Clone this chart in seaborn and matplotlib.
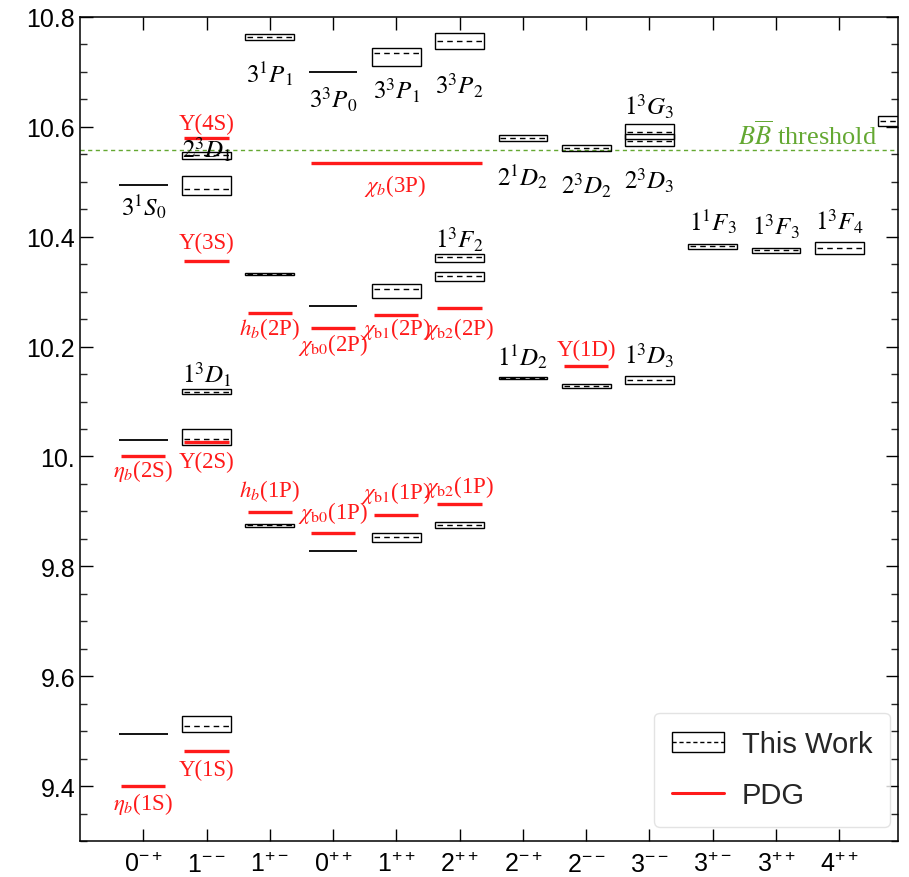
import numpy as np
import pandas as pd
import seaborn as sns
import matplotlib
matplotlib.use("Agg")
import matplotlib.pyplot as plt
from matplotlib.patches import Rectangle, Patch
from matplotlib.lines import Line2D
from matplotlib.ticker import MultipleLocator

# ---- quantum-number channels (x axis) ----
jpc_labels = [r"$0^{-+}$", r"$1^{--}$", r"$1^{+-}$", r"$0^{++}$", r"$1^{++}$", r"$2^{++}$",
              r"$2^{-+}$", r"$2^{--}$", r"$3^{--}$", r"$3^{+-}$", r"$3^{++}$", r"$4^{++}$"]

# ---- this work: channel index, central mass, lower / upper band (GeV) ----
tw_channel = [0, 0, 0,
              1, 1, 1, 1, 1,
              2, 2, 2,
              3, 3, 3,
              4, 4, 4,
              5, 5, 5, 5,
              6, 6,
              7, 7,
              8, 8, 8,
              9, 10, 11, 12]
tw_mass = [9.4945, 10.0297, 10.4945,
           9.5085, 10.031, 10.118, 10.487, 10.548,
           9.8745, 10.3315, 10.764,
           9.8278, 10.2733, 10.699,
           9.853, 10.3055, 10.7345,
           9.876, 10.3285, 10.3624, 10.757,
           10.143, 10.580,
           10.129, 10.5618,
           10.140, 10.5915, 10.575,
           10.3827, 10.375, 10.380, 10.6104]
tw_low = [9.4945, 10.0297, 10.4945,
          9.4985, 10.0205, 10.114, 10.476, 10.541,
          9.8725, 10.3295, 10.758,
          9.8278, 10.2733, 10.699,
          9.8436, 10.2885, 10.7115,
          9.8697, 10.319, 10.354, 10.7418,
          10.141, 10.5751,
          10.1255, 10.5558,
          10.1327, 10.5775, 10.5649,
          10.3782, 10.370, 10.369, 10.6024]
tw_high = [9.4945, 10.0297, 10.4945,
           9.5267, 10.050, 10.122, 10.511, 10.555,
           9.8765, 10.3335, 10.769,
           9.8278, 10.2733, 10.699,
           9.860, 10.3145, 10.7436,
           9.8806, 10.336, 10.369, 10.770,
           10.145, 10.5855,
           10.1327, 10.5678,
           10.1467, 10.6055, 10.5873,
           10.3873, 10.3794, 10.3903, 10.6205]

# ---- PDG masses: channel index, mass (GeV) ----
pdg_channel = [0, 0, 1, 1, 1, 1, 2, 2, 3, 3, 4, 4, 5, 5, 7]
pdg_mass = [9.400, 10.0005, 9.463, 10.0255, 10.356, 10.580, 9.899, 10.261,
            9.861, 10.233, 9.894, 10.257, 9.914, 10.270, 10.165]
# chi_b(3P) spans the 0++, 1++ and 2++ channels
chib3p_mass = 10.5345
chib3p_channels = [3, 5]

bb_threshold = 10.558

# ---- state names ----
tw_names = [r"$3^1S_0$", r"$2^3D_1$", r"$1^3D_1$", r"$3^1P_1$", r"$3^3P_0$", r"$3^3P_1$",
            r"$3^3P_2$", r"$1^3F_2$", r"$2^1D_2$", r"$1^1D_2$", r"$2^3D_2$", r"$1^3G_3$",
            r"$2^3D_3$", r"$1^3D_3$", r"$1^1F_3$", r"$1^3F_3$", r"$1^3F_4$"]
tw_name_xy = [(0, 10.456), (1, 10.560), (1, 10.151), (2, 10.698), (3, 10.651), (4, 10.667),
              (5, 10.676), (5, 10.396), (6, 10.511), (6, 10.184), (7, 10.495), (8, 10.638),
              (8, 10.504), (8, 10.185), (9, 10.429), (10, 10.420), (11, 10.429)]
pdg_names = ["Υ(4S)", "Υ(3S)", "Υ(2S)", "Υ(1S)", r"$\eta_b$(2S)", r"$\eta_b$(1S)",
             r"$h_b$(2P)", r"$h_b$(1P)", r"$\chi_{\rm b0}$(2P)", r"$\chi_{\rm b0}$(1P)",
             r"$\chi_{\rm b1}$(2P)", r"$\chi_{\rm b1}$(1P)", r"$\chi_{\rm b2}$(2P)",
             r"$\chi_{\rm b2}$(1P)", "Υ(1D)", r"$\chi_b$(3P)"]
pdg_name_xy = [(1, 10.607), (1, 10.389), (1, 9.991), (1, 9.431), (0, 9.976), (0, 9.369),
               (2, 10.233), (2, 9.938), (3, 10.204), (3, 9.898), (4, 10.233), (4, 9.935),
               (5, 10.233), (5, 9.947), (7, 10.195), (3.98, 10.495)]

tw = pd.DataFrame({"ch": tw_channel, "m": tw_mass, "lo": tw_low, "hi": tw_high})
pdg = pd.DataFrame({"ch": pdg_channel, "m": pdg_mass})

# ---- style ----
sns.set_theme(style="ticks")
plt.rcParams["font.family"] = ["Liberation Sans", "DejaVu Sans"]
plt.rcParams["mathtext.fontset"] = "custom"
plt.rcParams["mathtext.rm"] = "Liberation Sans"
plt.rcParams["mathtext.it"] = "Liberation Sans:italic"
plt.rcParams["mathtext.bf"] = "Liberation Sans:bold"

RED = "#ff1a1a"
GREEN = "#64a832"
BOX_HW = 0.385
PDG_HW = 0.35

fig, ax = plt.subplots(figsize=(9.09, 8.78), dpi=100)
fig.subplots_adjust(left=0.088, right=0.988, top=0.9795, bottom=0.041)

# this-work bands
for _, r in tw.iterrows():
    x0 = r.ch - BOX_HW
    if r.hi - r.lo > 1e-9:
        ax.add_patch(Rectangle((x0, r.lo), 2 * BOX_HW, r.hi - r.lo, fill=False,
                               edgecolor="black", linewidth=1.0, zorder=3))
        ax.hlines(r.m, x0 + 0.03, r.ch + BOX_HW - 0.03, colors="black", linewidth=1.0,
                  linestyles=(0, (4, 3)), zorder=3)
    else:
        ax.hlines(r.m, x0, r.ch + BOX_HW, colors="black", linewidth=1.3, zorder=3)

# PDG masses
ax.hlines(pdg.m, pdg.ch - PDG_HW, pdg.ch + PDG_HW, colors=RED, linewidth=2.4, zorder=4)
ax.hlines(chib3p_mass, chib3p_channels[0] - PDG_HW, chib3p_channels[1] + PDG_HW,
          colors=RED, linewidth=2.4, zorder=4)

# open-bottom threshold
ax.axhline(bb_threshold, color=GREEN, linewidth=1.0, linestyle=(0, (3, 2.5)), zorder=2)
ax.text(10.5, 10.587, r"$B\overline{B}$ threshold", color=GREEN, fontsize=19,
        ha="center", va="center", family="Liberation Serif", math_fontfamily="stix")

for name, (x, y) in zip(tw_names, tw_name_xy):
    ax.text(x, y, name, fontsize=18, ha="center", va="center", color="black",
            family="Liberation Serif", math_fontfamily="stix", zorder=5)
for name, (x, y) in zip(pdg_names, pdg_name_xy):
    ax.text(x, y, name, fontsize=16.5, ha="center", va="center", color=RED,
            family="Liberation Serif", math_fontfamily="stix", zorder=5)

# axes
ax.set_xlim(-1, 11.93)
ax.set_ylim(9.30, 10.80)
ax.set_xticks(range(len(jpc_labels)))
ax.set_xticklabels(jpc_labels)
ax.set_yticks([9.4, 9.6, 9.8, 10.0, 10.2, 10.4, 10.6, 10.8])
ax.set_yticklabels(["9.4", "9.6", "9.8", "10.", "10.2", "10.4", "10.6", "10.8"])
ax.yaxis.set_minor_locator(MultipleLocator(0.05))
ax.tick_params(axis="both", which="major", direction="in", length=9, width=1.0,
               labelsize=18, top=True, right=True, color="black", labelcolor="black")
ax.tick_params(axis="y", which="minor", direction="in", length=5, width=1.0,
               left=True, right=True)
ax.tick_params(axis="x", which="major", pad=8)
for s in ax.spines.values():
    s.set_linewidth(1.1)
    s.set_color("black")

# legend
tw_handle = (Patch(facecolor="none", edgecolor="black", linewidth=1.0),
             Line2D([], [], color="black", linewidth=1.0, linestyle=(0, (3, 2))))
pdg_handle = Line2D([], [], color=RED, linewidth=2.2)
leg = ax.legend([tw_handle, pdg_handle], ["This Work", "PDG"], loc="lower right",
                bbox_to_anchor=(0.99, 0.017), borderaxespad=0, fontsize=21,
                handlelength=1.8, handleheight=0.7, handletextpad=0.6,
                labelspacing=0.8, borderpad=0.6, frameon=True, fancybox=True)
leg.get_frame().set_edgecolor("#dddddd")
leg.get_frame().set_linewidth(1.0)

fig.savefig("out.png", dpi=100)
